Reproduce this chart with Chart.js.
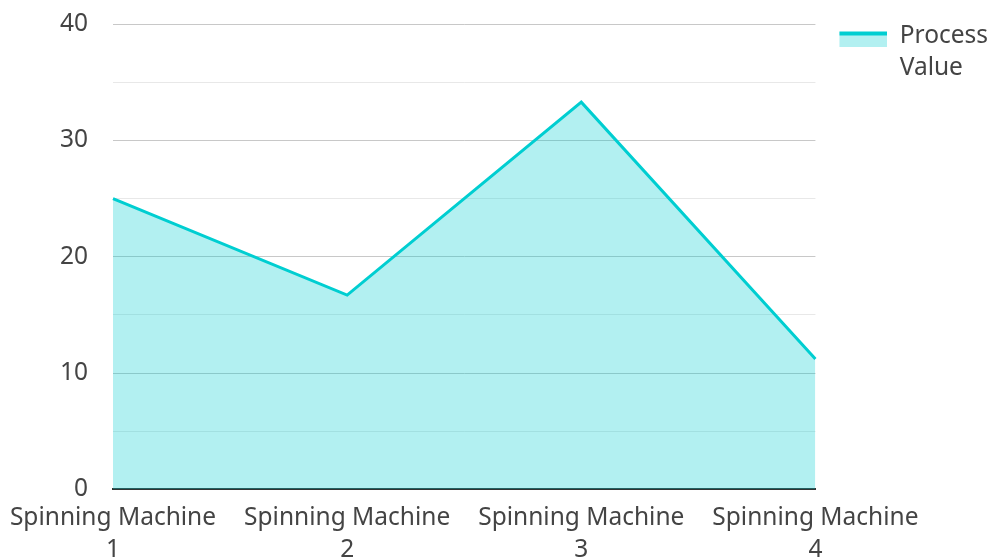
<!DOCTYPE html>
<html>
<head>
<meta charset="utf-8">
<script src="https://cdn.jsdelivr.net/npm/chart.js@4.4.0/dist/chart.umd.min.js"></script>
<style>
  html, body { margin: 0; padding: 0; background: #fff; }
  #wrap { width: 991px; height: 560px; }
</style>
</head>
<body>
<div id="wrap"><canvas id="chart"></canvas></div>
<script>
const machines = [["Spinning Machine", "1"], ["Spinning Machine", "2"], ["Spinning Machine", "3"], ["Spinning Machine", "4"]];
const processValues = [25, 16.7, 33.3, 11.2];
const seriesLabel = ["Process", "Value"];

const lineColor = "#00CED1";
const fillColor = "rgba(0, 206, 209, 0.3)";

// legend swatch: light fill with a thick line on top, some empty room left and above
function makeSwatch() {
  const c = document.createElement("canvas");
  c.width = 69;
  c.height = 22;
  const g = c.getContext("2d");
  g.fillStyle = fillColor;
  g.fillRect(21, 6, 48, 16);
  g.fillStyle = lineColor;
  g.fillRect(21, 6, 48, 4);
  return c;
}

const swatch = makeSwatch();
const family = "'Noto Sans', 'Open Sans', sans-serif";
const font = { family: family, size: 24.5, lineHeight: 1.3 };
const yFont = { family: family, size: 24.5, lineHeight: 1 };

new Chart(document.getElementById("chart"), {
  type: "line",
  data: {
    labels: machines,
    datasets: [{
      label: "Process Value",
      data: processValues,
      borderColor: lineColor,
      backgroundColor: fillColor,
      borderWidth: 3,
      fill: "origin",
      tension: 0,
      pointRadius: 0,
      pointHoverRadius: 0
    }]
  },
  options: {
    responsive: true,
    maintainAspectRatio: false,
    animation: false,
    layout: { padding: { left: 8, top: 0, right: -7, bottom: -19 } },
    plugins: {
      tooltip: { enabled: false },
      legend: {
        position: "right",
        align: "start",
        title: { display: true, text: " ", font: { size: 1 }, padding: { top: 20, bottom: 0 } },
        labels: {
          usePointStyle: true,
          pointStyleWidth: 69,
          boxHeight: 16,
          color: "#444",
          font: font,
          padding: 3,
          generateLabels: chart => [{
            text: seriesLabel,
            pointStyle: swatch,
            fillStyle: fillColor,
            strokeStyle: lineColor,
            lineWidth: 0,
            hidden: false,
            datasetIndex: 0,
            fontColor: "#444"
          }]
        }
      }
    },
    scales: {
      x: {
        offset: false,
        afterFit: s => { s.paddingLeft = Math.min(s.paddingLeft, 100); },
        grid: { display: false, drawTicks: false },
        border: { display: true, color: "#333", width: 2 },
        ticks: { color: "#444", font: font, maxRotation: 0, autoSkip: false, padding: 13 }
      },
      y: {
        min: 0,
        max: 40,
        afterFit: s => { s.width = 105; },
        grid: {
          drawTicks: true,
          tickLength: 13,
          tickColor: "rgba(0,0,0,0)",
          color: ctx => (ctx.tick && ctx.tick.value % 10 === 0) ? "#c8c8c8" : "#e8e8e8",
          lineWidth: 1
        },
        border: { display: false },
        ticks: {
          stepSize: 5,
          padding: 12,
          color: "#444",
          font: yFont,
          callback: v => (v % 10 === 0 ? v : "")
        }
      }
    }
  }
});
</script>
</body>
</html>
